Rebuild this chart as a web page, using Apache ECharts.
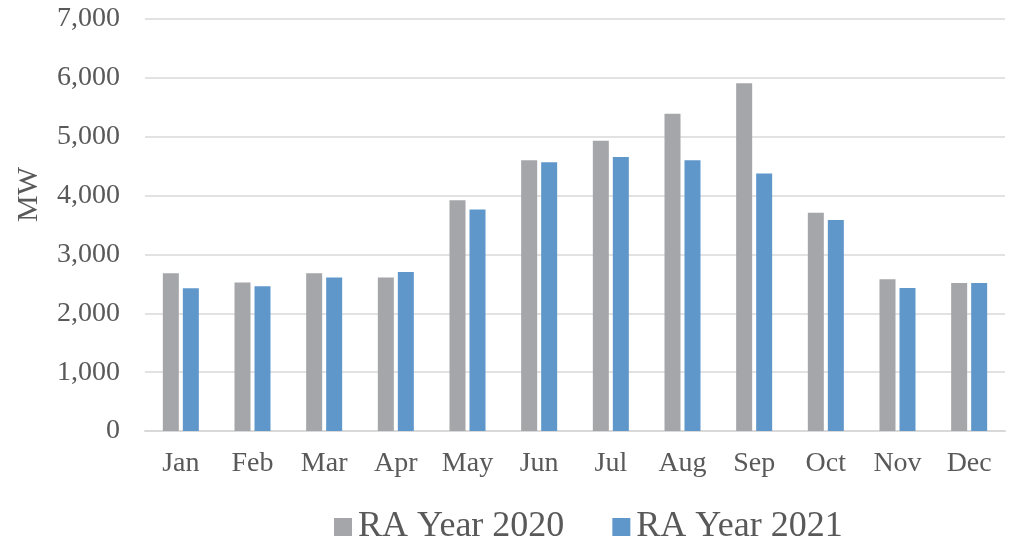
<!DOCTYPE html>
<html>
<head>
<meta charset="utf-8">
<script src="https://cdn.jsdelivr.net/npm/echarts@6/dist/echarts.min.js"></script>
<style>
  html, body { margin: 0; padding: 0; background: #fff; }
  #chart { width: 1018px; height: 543px; }
</style>
</head>
<body>
<div id="chart"></div>
<script>
// data
const months = ['Jan', 'Feb', 'Mar', 'Apr', 'May', 'Jun', 'Jul', 'Aug', 'Sep', 'Oct', 'Nov', 'Dec'];
const ra2020 = [2680, 2525, 2680, 2610, 3920, 4600, 4930, 5390, 5910, 3710, 2580, 2515];
const ra2021 = [2425, 2460, 2610, 2700, 3765, 4565, 4655, 4600, 4375, 3585, 2430, 2515];
const seriesNames = ['RA Year 2020', 'RA Year 2021'];

const font = '"Liberation Serif", "Times New Roman", serif';
const textColor = '#595959';
const lineColor = '#d9d9d9';

const chart = echarts.init(document.getElementById('chart'));

const option = {
  animation: false,
  textStyle: { fontFamily: font },
  grid: { left: 145, right: 13, top: 19, bottom: 112 },
  // axis title sits a bit above the middle in the reference
  graphic: [{
    type: 'text',
    left: 14,
    top: 167,
    rotation: Math.PI / 2,
    style: { text: 'MW', font: '30px ' + font, fill: textColor }
  }],
  legend: {
    data: seriesNames,
    left: 334,
    top: 509,
    padding: 0,
    itemWidth: 18,
    itemHeight: 18,
    itemGap: 48,
    icon: 'rect',
    textStyle: { fontFamily: font, fontSize: 36, color: textColor, padding: [0, 0, 0, 1] }
  },
  xAxis: {
    type: 'category',
    data: months,
    axisLine: { lineStyle: { color: lineColor, width: 2 } },
    axisTick: { show: false },
    axisLabel: { fontFamily: font, fontSize: 28, color: textColor, margin: 19 }
  },
  yAxis: {
    type: 'value',
    min: 0,
    max: 7000,
    interval: 1000,
    axisLine: { show: false },
    axisTick: { show: false },
    splitLine: { lineStyle: { color: lineColor, width: 1.5 } },
    axisLabel: {
      fontFamily: font,
      fontSize: 28,
      color: textColor,
      margin: 25,
      formatter: v => v.toLocaleString('en-US')
    }
  },
  series: [
    {
      name: seriesNames[0],
      type: 'bar',
      data: ra2020,
      barWidth: 16,
      barGap: '25%',
      itemStyle: { color: '#a5a6a9' }
    },
    {
      name: seriesNames[1],
      type: 'bar',
      data: ra2021,
      barWidth: 16,
      itemStyle: { color: '#5f97cb' }
    }
  ]
};

chart.setOption(option);
</script>
</body>
</html>
